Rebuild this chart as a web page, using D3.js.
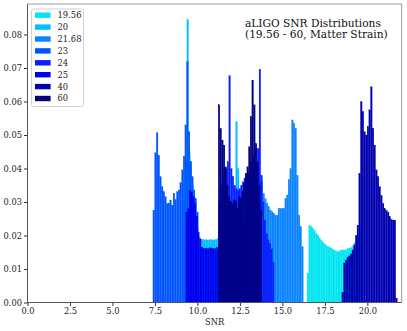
<!DOCTYPE html>
<html>
<head>
<meta charset="utf-8">
<script src="https://cdn.jsdelivr.net/npm/d3@7"></script>
<style>
  body { margin: 0; background: #fff; }
</style>
</head>
<body>
<svg id="chart"></svg>
<script>
// legend labels, in drawing order (last one ends up on top)
const labels = ["19.56", "20", "21.68", "23", "24", "25", "40", "60"];
const colors = ["#00e5f0", "#00bfff", "#0a84ff", "#0055ff", "#0a1eff", "#0000ee", "#0000b0", "#000080"];

// left edge of the first bin of each series
const binStart = [16.45, 9.18, 13.06, 7.38, 11.25, 9.32, 18.5, 11.22];
const binWidth = 0.099;

// bin heights
const snr1956 = [0.0088, 0.0231, 0.0227, 0.0222, 0.0215, 0.0207, 0.0200, 0.0193, 0.0186, 0.0180,
  0.0175, 0.0170, 0.0167, 0.0164, 0.0162, 0.0158, 0.0155, 0.0153, 0.0152, 0.0154, 0.0157, 0.0157,
  0.0157, 0.0158, 0.0162, 0.0162, 0.0165, 0.017, 0.018, 0.019, 0.020, 0.022, 0.024];
const snr20 = [0.030, 0.042, 0.0845, 0.045, 0.042, 0.035, 0.030, 0.026, 0.022, 0.0195, 0.0188,
  0.0187, 0.0187, 0.0188, 0.0186, 0.0187, 0.0188, 0.0186, 0.0187, 0.0188, 0.019, 0.021, 0.022,
  0.023, 0.024, 0.025, 0.026, 0.027, 0.028, 0.029, 0.031, 0.054, 0.040, 0.033, 0.028, 0.024];
const snr2168 = [0.028, 0.030, 0.032, 0.034, 0.035, 0.036, 0.036, 0.036, 0.0326, 0.031, 0.0296,
  0.0286, 0.0276, 0.0271, 0.0266, 0.0261, 0.0261, 0.0281, 0.0281, 0.0281, 0.0281, 0.0311, 0.0321,
  0.0366, 0.040, 0.0545, 0.0535, 0.052, 0.038, 0.0261, 0.0226, 0.0167];
const snr23 = [0.0276, 0.0447, 0.0507, 0.044, 0.0376, 0.0346, 0.0331, 0.0316, 0.0296, 0.0297,
  0.0306, 0.0291, 0.0326, 0.0308, 0.0331, 0.0336, 0.0358, 0.0396, 0.0437, 0.053, 0.0719, 0.051,
  0.042, 0.0376, 0.0336, 0.031, 0.027];
const snr24 = [0.030, 0.035, 0.038, 0.040, 0.040, 0.042, 0.0677, 0.040, 0.0376, 0.035, 0.034,
  0.0335, 0.034, 0.035, 0.036, 0.037, 0.038, 0.039, 0.040, 0.042, 0.044, 0.045, 0.046, 0.046,
  0.0696, 0.038, 0.030, 0.0246, 0.0206, 0.0187, 0.0176, 0.016, 0.012];
const snr25 = [0.027, 0.028, 0.0336, 0.033, 0.0316, 0.0296, 0.0256, 0.021, 0.019, 0.0165, 0.0162,
  0.0162, 0.0161, 0.0162, 0.0163, 0.0162, 0.0161, 0.0162, 0.0163, 0.0165, 0.017];
const snr40 = [0.003, 0.0118, 0.0127, 0.0134, 0.0139, 0.0145, 0.0157, 0.0172, 0.0201, 0.0231,
  0.0386, 0.060, 0.057, 0.051, 0.050, 0.0525, 0.0575, 0.0644, 0.052, 0.047, 0.0396, 0.0376,
  0.0346, 0.032, 0.0296, 0.028, 0.0275, 0.027, 0.0256, 0.0248, 0.0246, 0.0246, 0.0013];
const snr60 = [0.059, 0.052, 0.0485, 0.047, 0.0405, 0.0351, 0.0316, 0.0301, 0.0296, 0.0306,
  0.0301, 0.0281, 0.0316, 0.0311, 0.0331, 0.0356, 0.0386, 0.0405, 0.0465, 0.0555, 0.0664, 0.059,
  0.0475, 0.042, 0.035, 0.0276];

const seriesValues = [snr1956, snr20, snr2168, snr23, snr24, snr25, snr40, snr60];

const xTicks = [0, 2.5, 5, 7.5, 10, 12.5, 15, 17.5, 20];
const yTicks = [0, 0.01, 0.02, 0.03, 0.04, 0.05, 0.06, 0.07, 0.08];

const titleLines = ["aLIGO SNR Distributions", "(19.56 - 60, Matter Strain)"];

// chart size and plot box
const width = 407;
const height = 331;
const marginLeft = 27.5;
const marginRight = 5.3;
const marginTop = 4;
const marginBottom = 28.5;
const font = "'DejaVu Serif', serif";

const x = d3.scaleLinear([0, 22.02], [marginLeft, width - marginRight]);
const y = d3.scaleLinear([0, 0.0891], [height - marginBottom, marginTop]);

const svg = d3.select("#chart")
    .attr("width", width)
    .attr("height", height)
    .attr("viewBox", [0, 0, width, height]);

// histogram bars, one group per series
seriesValues.forEach((vals, k) => {
    const bins = vals.map((v, i) => ({
        x0: binStart[k] + i * binWidth,
        x1: binStart[k] + (i + 1) * binWidth,
        v: v
    }));
    svg.append("g")
        .attr("fill", colors[k])
        .attr("stroke", colors[k])
        .attr("stroke-width", 0.2)
        .selectAll("rect")
        .data(bins)
        .join("rect")
        .attr("x", d => x(d.x0))
        .attr("width", d => x(d.x1) - x(d.x0))
        .attr("y", d => y(d.v))
        .attr("height", d => y(0) - y(d.v));
});

// x axis
svg.append("g")
    .attr("transform", `translate(0,${height - marginBottom})`)
    .call(d3.axisBottom(x).tickValues(xTicks).tickFormat(d3.format(".1f")).tickSize(3.5).tickPadding(2))
    .call(g => g.select(".domain").remove())
    .call(g => g.selectAll(".tick line").attr("stroke", "#333"))
    .call(g => g.selectAll("text").attr("font-family", font).attr("font-size", 8.3).attr("fill", "#222"));

// y axis
svg.append("g")
    .attr("transform", `translate(${marginLeft},0)`)
    .call(d3.axisLeft(y).tickValues(yTicks).tickFormat(d3.format(".2f")).tickSize(3.5).tickPadding(2))
    .call(g => g.select(".domain").remove())
    .call(g => g.selectAll(".tick line").attr("stroke", "#333"))
    .call(g => g.selectAll("text").attr("font-family", font).attr("font-size", 8.3).attr("fill", "#222"));

// frame
const [x0, x1] = x.range();
const [y0, y1] = y.range();
svg.append("line").attr("x1", x0).attr("x2", x0).attr("y1", y0).attr("y2", y1).attr("stroke", "#555");
svg.append("line").attr("x1", x0).attr("x2", x1).attr("y1", y0).attr("y2", y0).attr("stroke", "#555");
svg.append("line").attr("x1", x1).attr("x2", x1).attr("y1", y0).attr("y2", y1).attr("stroke", "#999");
svg.append("line").attr("x1", x0).attr("x2", x1).attr("y1", y1).attr("y2", y1).attr("stroke", "#999");

// x label
svg.append("text")
    .attr("x", (x0 + x1) / 2)
    .attr("y", 325)
    .attr("text-anchor", "middle")
    .attr("font-family", font)
    .attr("font-size", 8.3)
    .attr("fill", "#222")
    .text("SNR");

// title block, top right
svg.append("g")
    .selectAll("text")
    .data(titleLines)
    .join("text")
    .attr("x", 245)
    .attr("y", (d, i) => 26.7 + i * 11)
    .attr("font-family", font)
    .attr("font-size", 10.6)
    .attr("fill", "#111")
    .text(d => d);

// legend
const legend = svg.append("g");
legend.append("rect")
    .attr("x", 31.5).attr("y", 9)
    .attr("width", 52).attr("height", 97.5)
    .attr("rx", 2)
    .attr("fill", "white").attr("fill-opacity", 0.8)
    .attr("stroke", "#d0d0d0");
const item = legend.selectAll("g.item")
    .data(labels)
    .join("g")
    .attr("class", "item")
    .attr("transform", (d, i) => `translate(0,${15.2 + i * 11.9})`);
item.append("rect")
    .attr("x", 35).attr("y", -2.7)
    .attr("width", 15.6).attr("height", 5.4)
    .attr("fill", (d, i) => colors[i]);
item.append("text")
    .attr("x", 57.5)
    .attr("dy", "0.35em")
    .attr("font-family", font)
    .attr("font-size", 8.4)
    .attr("fill", "#222")
    .text(d => d);
</script>
</body>
</html>
